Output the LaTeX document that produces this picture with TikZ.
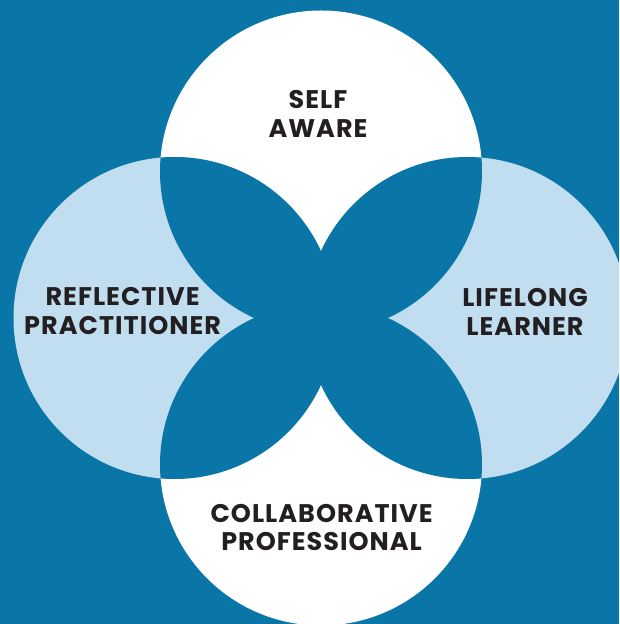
\documentclass[tikz,border=0pt]{standalone}
\usepackage{fontspec}
\setmainfont{Poppins}[LetterSpace=4]
\definecolor{bgblue}{RGB}{10,118,168}
\definecolor{lightblue}{RGB}{193,222,241}
\definecolor{textdark}{RGB}{35,31,32}
\begin{document}
\begin{tikzpicture}[x=1pt,y=1pt,
  lab/.style={align=center,anchor=base,inner sep=0pt,text=textdark,
    font=\fontsize{25.5}{28.7}\selectfont\bfseries}]
\useasboundingbox (0,0) rectangle (619,624);
\clip (0,0) rectangle (619,624);
\fill[bgblue] (0,0) rectangle (619,624);
\def\R{161}
\coordinate (T) at (321,452.5);
\coordinate (B) at (321,159.5);
\coordinate (L) at (174.5,306);
\coordinate (Rt) at (467.5,306);
\fill[white] (T) circle[radius=\R];
\fill[white] (B) circle[radius=\R];
\fill[lightblue] (L) circle[radius=\R];
\fill[lightblue] (Rt) circle[radius=\R];
\foreach \a/\b in {T/L,T/Rt,B/L,B/Rt,T/B,L/Rt}{
  \begin{scope}
    \clip (\a) circle[radius=\R];
    \fill[bgblue] (\b) circle[radius=\R];
  \end{scope}
}
\node[lab] (self) at (318,486.6) {SELF\\AWARE};
\node[lab] (refl) at (122.6,289.6) {REFLECTIVE\\PRACTITIONER};
\node[lab] (life) at (525,288.4) {LIFELONG\\LEARNER};
\node[lab] (coll) at (321.6,73) {COLLABORATIVE\\PROFESSIONAL};
\end{tikzpicture}
\end{document}
